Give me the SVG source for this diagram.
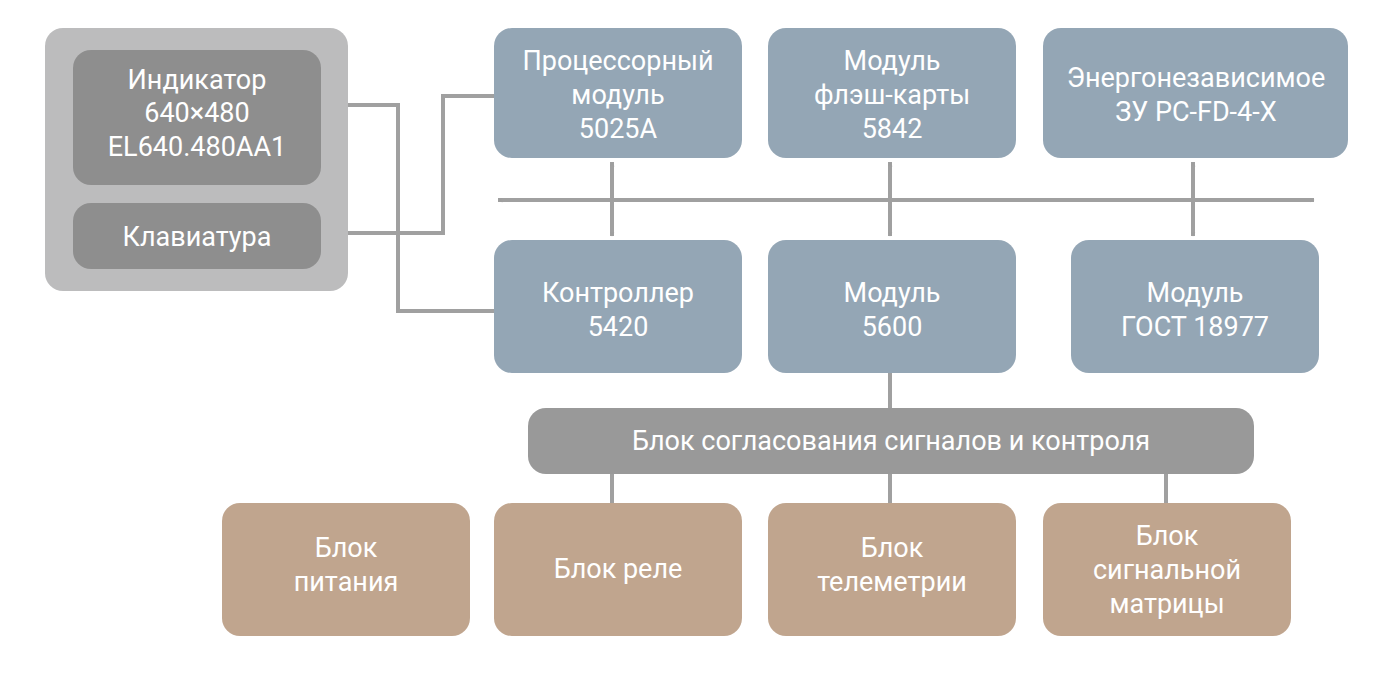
<svg xmlns="http://www.w3.org/2000/svg" width="1395" height="674" viewBox="0 0 1395 674">
<defs>
<marker id="ah" viewBox="0 0 10 10" refX="9" refY="5" markerWidth="5" markerHeight="5" orient="auto-start-reverse" markerUnits="userSpaceOnUse"><path d="M0,0 L10,5 L0,10 L3,5 z" fill="#9e9e9e"/></marker>
<style>
text{font-family:Roboto,"Liberation Sans",sans-serif;font-size:27px;fill:#fff;text-anchor:middle}
.b{fill:#94a6b5}.t{fill:#c0a58e}.g{fill:#8e8e8e}
.c{stroke:#a0a0a0;stroke-width:4;fill:none}
</style>
</defs>
<rect width="1395" height="674" fill="#fff"/>
<g id="panel"><rect x="45" y="28" width="303" height="263" rx="18" fill="#bcbcbd"/></g>
<g id="indicator"><rect class="g" x="73" y="50" width="248" height="135" rx="18"/><text x="197" y="89">Индикатор</text><text x="197" y="122">640×480</text><text x="197" y="156">EL640.480AA1</text></g>
<g id="keyboard"><rect class="g" x="73" y="203" width="248" height="66" rx="18"/><text x="197" y="246">Клавиатура</text></g>
<g id="connectors">
<path class="c" d="M348,105 H398 V311 H494"/>
<path class="c" d="M348,233 H443 V96 H494"/>
<path class="c" d="M498,200 H1314" marker-start="url(#ah)" marker-end="url(#ah)" stroke-width="4"/>
<path class="c" d="M612,162 V236" marker-start="url(#ah)" marker-end="url(#ah)"/>
<path class="c" d="M890,162 V236" marker-start="url(#ah)" marker-end="url(#ah)"/>
<path class="c" d="M1193,162 V236" marker-start="url(#ah)" marker-end="url(#ah)"/>
<path class="c" d="M890,373 V408 M612,474 V503 M890,474 V503 M1166,474 V503"/>
</g>
<g id="cpu"><rect class="b" x="494" y="28" width="248" height="130" rx="18"/><text x="618" y="70">Процессорный</text><text x="618" y="104">модуль</text><text x="618" y="138">5025A</text></g>
<g id="flash"><rect class="b" x="768" y="28" width="248" height="130" rx="18"/><text x="892" y="70">Модуль</text><text x="892" y="104">флэш-карты</text><text x="892" y="138">5842</text></g>
<g id="nvram"><rect class="b" x="1043" y="28" width="305" height="130" rx="18"/><text x="1196" y="87">Энергонезависимое</text><text x="1196" y="121">ЗУ PC-FD-4-X</text></g>
<g id="ctrl"><rect class="b" x="494" y="240" width="248" height="133" rx="18"/><text x="618" y="302">Контроллер</text><text x="618" y="336">5420</text></g>
<g id="m5600"><rect class="b" x="768" y="240" width="248" height="133" rx="18"/><text x="892" y="302">Модуль</text><text x="892" y="336">5600</text></g>
<g id="gost"><rect class="b" x="1071" y="240" width="248" height="133" rx="18"/><text x="1195" y="302">Модуль</text><text x="1195" y="336">ГОСТ 18977</text></g>
<g id="match"><rect x="528" y="408" width="726" height="66" rx="18" fill="#999"/><text x="891" y="450">Блок согласования сигналов и контроля</text></g>
<g id="power"><rect class="t" x="222" y="503" width="248" height="133" rx="18"/><text x="346" y="557">Блок</text><text x="346" y="591">питания</text></g>
<g id="relay"><rect class="t" x="494" y="503" width="248" height="133" rx="18"/><text x="618" y="578">Блок реле</text></g>
<g id="tele"><rect class="t" x="768" y="503" width="248" height="133" rx="18"/><text x="892" y="557">Блок</text><text x="892" y="591">телеметрии</text></g>
<g id="matrix"><rect class="t" x="1043" y="503" width="248" height="133" rx="18"/><text x="1167" y="545">Блок</text><text x="1167" y="579">сигнальной</text><text x="1167" y="613">матрицы</text></g>
</svg>
